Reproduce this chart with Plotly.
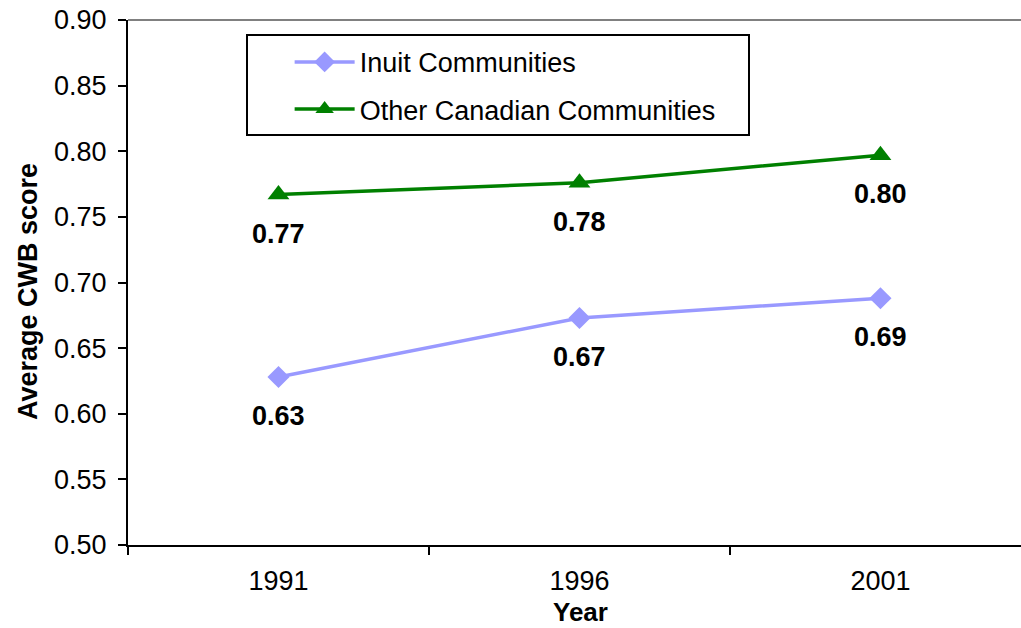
import plotly.graph_objects as go

years = ["1991", "1996", "2001"]
inuit = [0.628, 0.673, 0.688]
other = [0.767, 0.776, 0.797]
inuit_labels = ["0.63", "0.67", "0.69"]
other_labels = ["0.77", "0.78", "0.80"]

FONT = "Liberation Sans, Arial, sans-serif"
FS = 27
fig = go.Figure()
fig.add_trace(go.Scatter(x=years, y=inuit, mode="lines+markers", name="Inuit Communities",
                         line=dict(color="#9999FF", width=3.5),
                         marker=dict(symbol="diamond", size=17, color="#9999FF"),
                         legendgroup="a"))
fig.add_trace(go.Scatter(x=years, y=other, mode="lines+markers", name="Other Canadian Communities",
                         line=dict(color="#008000", width=3.5),
                         marker=dict(symbol="triangle-up", size=19, color="#008000"),
                         legendgroup="b"))

for ys, labs in ((inuit, inuit_labels), (other, other_labels)):
    for i, (yv, t) in enumerate(zip(ys, labs)):
        fig.add_annotation(xref="x", yref="y", x=i, y=yv, text=f"<b>{t}</b>", showarrow=False,
                           yshift=-39, font=dict(family=FONT, size=FS, color="black"))

# axis titles
fig.add_annotation(xref="paper", yref="paper", x=(28 - 128) / 893, y=(545 - 292) / 525,
                   xanchor="center", yanchor="middle",
                   text="<b>Average CWB score</b>",
                   textangle=-90, showarrow=False, font=dict(family=FONT, size=FS, color="black"))
fig.add_annotation(xref="paper", yref="paper", x=(580 - 128) / 893, y=(545 - 612) / 525,
                   xanchor="center", yanchor="middle",
                   text="<b>Year</b>", showarrow=False,
                   font=dict(family=FONT, size=FS - 1, color="black"))

# top border of plot area
fig.add_shape(type="line", xref="paper", yref="paper", x0=0, x1=1, y0=1, y1=1,
              line=dict(color="#808080", width=2))
# legend box
fig.add_shape(type="rect", xref="paper", yref="paper",
              x0=(247 - 128) / 893, x1=(749 - 128) / 893,
              y0=(545 - 135) / 525, y1=(545 - 35) / 525,
              line=dict(color="black", width=2), fillcolor="rgba(0,0,0,0)")

fig.update_layout(
    width=1021, height=628,
    margin=dict(l=128, r=0, t=20, b=83, autoexpand=False),
    paper_bgcolor="white", plot_bgcolor="white",
    font=dict(family=FONT, size=FS, color="black"),
    showlegend=True,
    legend=dict(x=0.181, y=0.966, xanchor="left", yanchor="top", bgcolor="rgba(0,0,0,0)",
                borderwidth=0, font=dict(size=FS), tracegroupgap=9, itemwidth=60),
    xaxis=dict(type="category", range=[-0.5, 2.467], tickson="boundaries", automargin=False,
               ticks="outside", ticklen=8, tickwidth=2, tickcolor="black",
               showline=True, linecolor="black", linewidth=2, showgrid=False,
               ticklabelstandoff=11, tickfont=dict(size=FS)),
    yaxis=dict(range=[0.5, 0.9], dtick=0.05, tickformat=".2f", automargin=False,
               ticks="outside", ticklen=8, tickwidth=2, tickcolor="black",
               showline=True, linecolor="black", linewidth=2, showgrid=False, zeroline=False,
               ticklabelstandoff=6, tickfont=dict(size=FS)),
)
fig.write_html("out.html", config={"displayModeBar": False},
               post_script="document.body.style.margin='0px';document.body.style.overflow='hidden';")
